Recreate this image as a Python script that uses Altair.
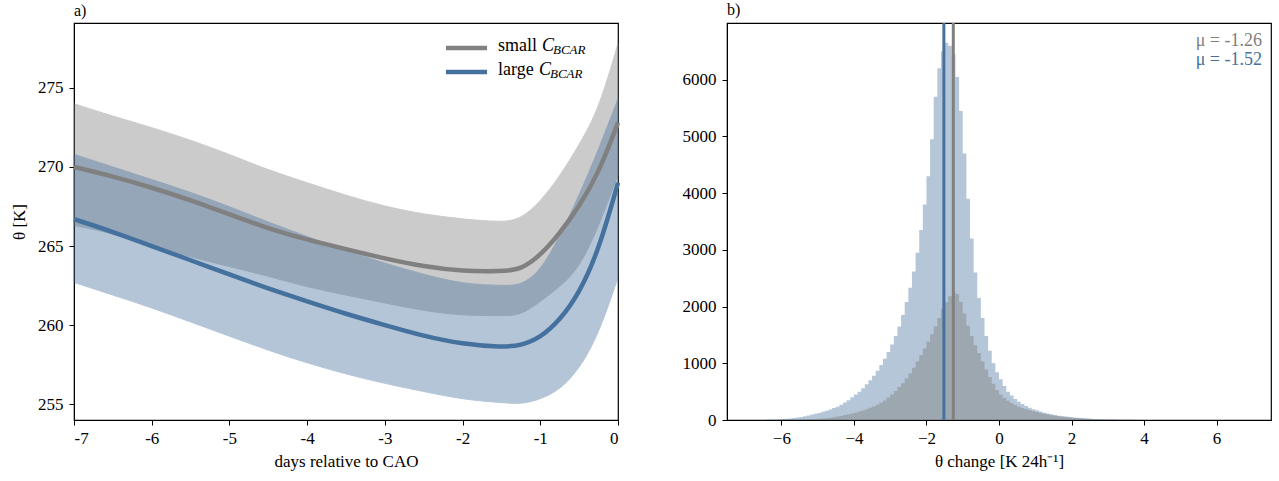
import altair as alt
import pandas as pd
import numpy as np

# ---------------- panel a) data ----------------
days = [-7, -6.5, -6, -5.5, -5, -4.5, -4, -3.5, -3, -2.5, -2, -1.5, -1.25, -1, -0.75, -0.5, -0.25, 0]
small_mean = [270.0, 269.4, 268.7, 267.9, 267.0, 266.1, 265.4, 264.8, 264.2, 263.7, 263.4, 263.4, 263.5, 264.4, 265.8, 267.5, 269.6, 272.8]
small_upper = [274.0, 273.2, 272.5, 271.7, 270.8, 269.8, 269.0, 268.2, 267.5, 267.0, 266.7, 266.5, 266.7, 267.8, 269.4, 271.4, 273.6, 277.8]
small_lower = [266.3, 265.8, 265.0, 264.3, 263.7, 263.1, 262.4, 261.9, 261.4, 260.9, 260.6, 260.6, 260.6, 261.5, 262.4, 263.6, 266.2, 269.5]
large_mean = [266.7, 265.9, 265.0, 264.1, 263.2, 262.3, 261.5, 260.7, 260.0, 259.3, 258.8, 258.6, 258.7, 259.2, 260.3, 262.0, 264.7, 269.0]
large_upper = [270.8, 270.0, 269.2, 268.4, 267.5, 266.5, 265.6, 264.7, 263.9, 263.2, 262.6, 262.5, 262.5, 263.4, 265.6, 268.2, 271.1, 274.3]
large_lower = [262.7, 261.9, 261.1, 260.2, 259.3, 258.4, 257.6, 256.9, 256.3, 255.8, 255.3, 255.1, 255.0, 255.3, 255.9, 257.2, 259.4, 263.0]

# ---------------- panel b) data ----------------
bin_centers = np.round(np.arange(-6.45, 4.0, 0.1), 2)
large_counts = [5, 7, 9, 11, 14, 18, 22, 28, 35, 45,
                55, 68, 80, 95, 110, 125, 145, 165, 185, 210,
                235, 270, 310, 350, 400, 450, 500, 560, 630, 700,
                780, 870, 970, 1080, 1200, 1330, 1480, 1650, 1850, 2080,
                2330, 2620, 2950, 3350, 3800, 4300, 4950, 5700, 6200, 6500,
                6650, 6600, 6450, 6050, 5450, 4700, 3900, 3200, 2600, 2150,
                1800, 1480, 1220, 1000, 840, 720, 600, 500, 430, 370,
                320, 280, 245, 215, 190, 170, 150, 130, 115, 100,
                88, 77, 68, 60, 53, 46, 40, 35, 30, 26,
                22, 19, 16, 14, 12, 10, 8, 7, 6, 5,
                4, 3, 3, 2, 2]
small_counts = [1, 1, 2, 2, 3, 3, 4, 5, 6, 7,
                9, 11, 13, 16, 19, 23, 28, 34, 41, 50,
                60, 72, 86, 100, 115, 130, 148, 168, 190, 215,
                240, 270, 305, 345, 395, 450, 510, 580, 650, 730,
                820, 920, 1030, 1140, 1260, 1380, 1510, 1650, 1800, 1960,
                2080, 2180, 2260, 2220, 2080, 1880, 1660, 1480, 1320, 1180,
                1030, 890, 760, 640, 530, 450, 390, 340, 300, 265,
                235, 210, 190, 172, 155, 140, 125, 110, 97, 85,
                75, 66, 58, 51, 45, 39, 34, 30, 26, 22,
                19, 16, 14, 12, 10, 8, 7, 6, 5, 4,
                3, 3, 2, 2, 1]
means = [-1.26, -1.52]
mean_labels = ["μ = -1.26", "μ = -1.52"]

GREY = "#808080"
BLUE = "#45719e"
FONT = "Liberation Serif"
FS = 17
W, H = 544, 397

# ---------------- panel a) ----------------
dfa = pd.DataFrame({"day": days, "sm": small_mean, "su": small_upper, "sl": small_lower,
                    "lm": large_mean, "lu": large_upper, "ll": large_lower})

xa = alt.X("day:Q", scale=alt.Scale(domain=[-7, 0], nice=False),
           axis=alt.Axis(values=[-7, -6, -5, -4, -3, -2, -1, 0], labelExpr="toString(datum.value)",
                         title="days relative to CAO"))
ya_scale = alt.Scale(domain=[254, 279.1], nice=False, zero=False)
ya_axis = alt.Axis(values=[255, 260, 265, 270, 275], title="θ [K]")

INTERP = "basis"
base_a = alt.Chart(dfa)
grey_band = base_a.mark_area(color=GREY, opacity=0.4, interpolate=INTERP,
                             stroke=GREY, strokeWidth=1).encode(
    x=xa, y=alt.Y("sl:Q", scale=ya_scale, axis=ya_axis), y2="su:Q")
blue_band = base_a.mark_area(color=BLUE, opacity=0.4, interpolate=INTERP,
                             stroke=BLUE, strokeWidth=1).encode(
    x=xa, y=alt.Y("ll:Q", scale=ya_scale, axis=ya_axis), y2="lu:Q")
grey_line = base_a.mark_line(color=GREY, strokeWidth=4.5, interpolate=INTERP).encode(
    x=xa, y=alt.Y("sm:Q", scale=ya_scale, axis=ya_axis))
blue_line = base_a.mark_line(color=BLUE, strokeWidth=4.5, interpolate=INTERP).encode(
    x=xa, y=alt.Y("lm:Q", scale=ya_scale, axis=ya_axis))

leg = pd.DataFrame({"name": ["small", "large"], "color": [GREY, BLUE],
                    "cx": [468, 465], "sx": [479, 476], "ly": [25, 49]})
leg_rules = []
leg_texts = []
for i in range(2):
    row = leg.iloc[[i]]
    c = alt.Chart(row)
    ly = int(row["ly"].iloc[0])
    leg_rules.append(c.mark_rule(color=row["color"].iloc[0], strokeWidth=4.5).encode(
        x=alt.value(372), x2=alt.value(413), y=alt.value(ly)))
    leg_texts.append(c.mark_text(align="left", baseline="middle", font=FONT, fontSize=18, color="black").encode(
        x=alt.value(424), y=alt.value(ly - 2), text="name:N"))
    leg_texts.append(c.mark_text(align="left", baseline="middle", font=FONT, fontSize=18, fontStyle="italic",
                                 color="black", text="C").encode(
        x=alt.value(int(row["cx"].iloc[0])), y=alt.value(ly - 2)))
    leg_texts.append(c.mark_text(align="left", baseline="middle", font=FONT, fontSize=13, fontStyle="italic",
                                 color="black", text="BCAR").encode(
        x=alt.value(int(row["sx"].iloc[0])), y=alt.value(ly + 2)))

panel_a = alt.layer(grey_band, blue_band, grey_line, blue_line, *leg_rules, *leg_texts).properties(
    width=W, height=H, title=alt.TitleParams("a)", anchor="start", frame="group", fontSize=16, font=FONT,
                                             fontWeight="normal", offset=4))

# ---------------- panel b) ----------------
dfb = pd.DataFrame({"c": bin_centers, "large": large_counts, "small": small_counts})
xb = alt.X("c:Q", scale=alt.Scale(domain=[-7.5, 7.5], nice=False),
           axis=alt.Axis(values=[-6, -4, -2, 0, 2, 4, 6],
                         labelExpr="replace(toString(datum.value), '-', '\u2212')",
                         title="θ change [K 24h⁻¹]"))
yb_scale = alt.Scale(domain=[0, 7000], nice=False)
yb_axis = alt.Axis(values=[0, 1000, 2000, 3000, 4000, 5000, 6000], format="d", title=None)

base_b = alt.Chart(dfb)
hist_large = base_b.mark_area(color=BLUE, opacity=0.4, interpolate="step").encode(
    x=xb, y=alt.Y("large:Q", scale=yb_scale, axis=yb_axis))
hist_small = base_b.mark_area(color=GREY, opacity=0.45, interpolate="step").encode(
    x=xb, y=alt.Y("small:Q", scale=yb_scale, axis=yb_axis))

dfm = pd.DataFrame({"mean": means, "label": mean_labels, "color": [GREY, BLUE], "ty": [18, 37]})
rules = alt.Chart(dfm).mark_rule(strokeWidth=3).encode(
    x=alt.X("mean:Q", scale=alt.Scale(domain=[-7.5, 7.5], nice=False)),
    color=alt.Color("color:N", scale=None))
mu_texts = alt.Chart(dfm).mark_text(align="right", baseline="middle", font=FONT, fontSize=18).encode(
    x=alt.value(535), y=alt.Y("ty:Q", scale=None), text="label:N",
    color=alt.Color("color:N", scale=None))

panel_b = alt.layer(hist_large, hist_small, rules, mu_texts).properties(
    width=W, height=H, title=alt.TitleParams("b)", anchor="start", frame="group", fontSize=16, font=FONT,
                                             fontWeight="normal", offset=4))

chart = alt.hconcat(panel_a, panel_b, spacing=53).properties(
    padding={"left": 9, "top": 0, "right": 5, "bottom": 5}
).configure(font=FONT).configure_view(stroke="black", strokeWidth=1.2).configure_axis(
    grid=False, domainColor="black", tickColor="black", tickSize=5, labelFont=FONT, titleFont=FONT,
    labelFontSize=FS, titleFontSize=FS, titleFontWeight="normal", labelColor="black", titleColor="black",
    labelPadding=6
).configure_axisY(titlePadding=9).configure_axisX(titlePadding=7, labelPadding=5)

chart.save("out.html", embed_options={"renderer": "svg", "actions": False})
